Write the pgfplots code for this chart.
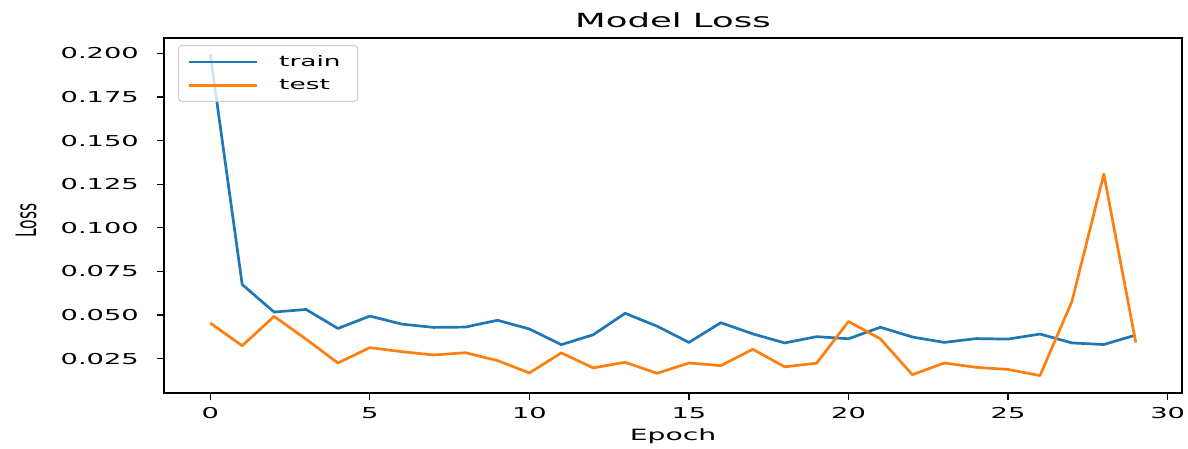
\documentclass[border=0pt]{standalone}
\usepackage{fontspec}
\setmainfont{DejaVu Sans}[FakeStretch=1.82]
\newfontfamily\plainfont{DejaVu Sans}
\usepackage{graphicx}
\usepackage{pgfplots}
\pgfplotsset{compat=1.18}
\definecolor{mplblue}{HTML}{1F77B4}
\definecolor{mplorange}{HTML}{FF7F0E}
\begin{document}
\begin{tikzpicture}
\useasboundingbox (-164pt,-55pt) rectangle (1024pt,393pt);
\begin{axis}[
  at={(0pt,0pt)}, anchor=south west,
  scale only axis, width=1018pt, height=355pt,
  xmin=-1.45, xmax=30.45, ymin=0.0053, ymax=0.2088,
  xtick={0,5,10,15,20,25,30},
  ytick={0.025,0.050,0.075,0.100,0.125,0.150,0.175,0.200},
  tickpos=left, tick align=outside, major tick length=7pt,
  tick style={black, line width=1.2pt},
  axis line style={black, line width=1.2pt},
  /pgf/number format/assume math mode=true,
  ticklabel style={font=\fontsize{15}{18}\selectfont},
  yticklabel style={/pgf/number format/fixed, /pgf/number format/fixed zerofill, /pgf/number format/precision=3, anchor=east, inner sep=0pt, xshift=-18pt},
  xticklabel style={anchor=north, inner sep=0pt, yshift=-7pt},
  title={Model Loss},
  title style={font=\fontsize{19.5}{23}\selectfont, at={(rel axis cs:0.5,1)}, anchor=base, inner sep=0pt, yshift=4pt},
  xlabel={Epoch},
  xlabel style={font=\fontsize{15.5}{18}\selectfont, at={(rel axis cs:0.5,0)}, anchor=north, inner sep=0pt, yshift=-36pt},
  ylabel={\scalebox{1}[1.82]{Loss}},
  ylabel style={font=\plainfont\fontsize{15.5}{18}\selectfont, at={([xshift=-138pt,yshift=-5pt]rel axis cs:0,0.5)}, anchor=center, inner sep=0pt},
  legend style={at={(0.0138,0.980)}, anchor=north west, draw=black!20, line width=1pt, rounded corners=3pt, fill=white, fill opacity=0.8, text opacity=1, draw opacity=1, inner xsep=9pt, inner ysep=10pt, row sep=11.5pt, column sep=21pt, nodes={inner sep=0pt}, font=\fontsize{14.5}{17}\selectfont},
  legend cell align=left,
  legend image code/.code={\draw[#1] (0pt,0pt) -- (68pt,0pt);},
]
\addplot[mplblue, line width=2.7pt, line join=round] coordinates {
(0,0.1995) (1,0.0675) (2,0.0517) (3,0.0532) (4,0.0423) (5,0.0494)
(6,0.0448) (7,0.0429) (8,0.0431) (9,0.0470) (10,0.0420) (11,0.0330)
(12,0.0387) (13,0.0510) (14,0.0436) (15,0.0343) (16,0.0456) (17,0.0392)
(18,0.0340) (19,0.0376) (20,0.0364) (21,0.0430) (22,0.0374) (23,0.0343)
(24,0.0365) (25,0.0362) (26,0.0391) (27,0.0340) (28,0.0331) (29,0.0385)
};
\addlegendentry{train\hspace*{8pt}\mbox{}}
\addplot[mplorange, line width=2.7pt, line join=round] coordinates {
(0,0.0454) (1,0.0324) (2,0.0492) (3,0.0362) (4,0.0225) (5,0.0313)
(6,0.0290) (7,0.0271) (8,0.0284) (9,0.0239) (10,0.0168) (11,0.0283)
(12,0.0197) (13,0.0229) (14,0.0166) (15,0.0225) (16,0.0210) (17,0.0304)
(18,0.0203) (19,0.0224) (20,0.0463) (21,0.0363) (22,0.0158) (23,0.0225)
(24,0.0200) (25,0.0188) (26,0.0153) (27,0.0578) (28,0.1308) (29,0.0343)
};
\addlegendentry{test}
\end{axis}
\end{tikzpicture}
\end{document}
